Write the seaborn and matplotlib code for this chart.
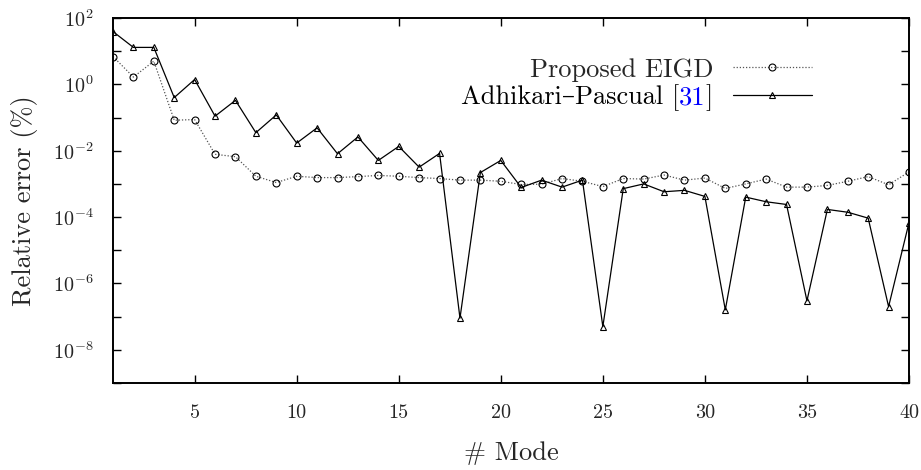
import matplotlib
matplotlib.use("Agg")
import numpy as np
import pandas as pd
import seaborn as sns
import matplotlib.pyplot as plt
from matplotlib.ticker import NullFormatter, LogFormatterSciNotation, FixedLocator

# ---- data ----
modes = list(range(1, 41))
eigd = [6.9, 1.66, 5.0, 0.083, 0.087, 0.0078, 0.0066, 0.0017, 0.0011, 0.0017,
        0.00155, 0.00155, 0.00166, 0.0018, 0.0017, 0.00155, 0.00145, 0.0013, 0.0013, 0.0012,
        9.6e-4, 9.8e-4, 1.45e-3, 1.2e-3, 8.3e-4, 1.45e-3, 1.4e-3, 1.85e-3, 1.3e-3, 1.5e-3,
        7.3e-4, 1.0e-3, 1.4e-3, 8e-4, 8e-4, 9e-4, 1.2e-3, 1.66e-3, 9.4e-4, 2.3e-3]
ap = [39, 13, 13, 0.4, 1.4, 0.11, 0.33, 0.035, 0.12, 0.017,
      0.049, 0.0081, 0.026, 0.0051, 0.0135, 0.0032, 0.0083, 9e-8, 0.0022, 0.0051,
      7.8e-4, 1.3e-3, 8e-4, 1.3e-3, 5e-8, 7.2e-4, 1.0e-3, 5.8e-4, 6.4e-4, 4.2e-4,
      1.6e-7, 4e-4, 2.9e-4, 2.4e-4, 3e-7, 1.7e-4, 1.4e-4, 9.3e-5, 2e-7, 6.8e-5]
label_eigd = "Proposed EIGD"
label_ap_main = "Adhikari–Pascual ["
label_ap_ref = "31"
label_ap_end = "]"
label_ap = label_ap_main + label_ap_ref + label_ap_end
x_ticks = [5, 10, 15, 20, 25, 30, 35, 40]
y_major = [1e-8, 1e-6, 1e-4, 1e-2, 1e0, 1e2]
y_minor = [1e-9, 1e-7, 1e-5, 1e-3, 1e-1, 1e1]

df_e = pd.DataFrame({"mode": modes, "err": eigd})
df_a = pd.DataFrame({"mode": modes, "err": ap})

sns.set_style("ticks")
plt.rcParams["font.family"] = ["cmr10", "DejaVu Serif"]
plt.rcParams["mathtext.fontset"] = "cm"
plt.rcParams["axes.formatter.use_mathtext"] = True
plt.rcParams["axes.unicode_minus"] = False

fig = plt.figure(figsize=(9.21, 4.70), dpi=100)
ax = fig.add_axes([113 / 921, 1 - 383 / 470, 796 / 921, 365 / 470])

sns.lineplot(data=df_e, x="mode", y="err", ax=ax, color="#555555", linestyle=(0, (1, 1.5)),
             linewidth=0.9, marker="o", markersize=5, markerfacecolor="none",
             markeredgecolor="black", markeredgewidth=0.8, label=label_eigd)
sns.lineplot(data=df_a, x="mode", y="err", ax=ax, color="black", linestyle="-",
             linewidth=0.9, marker="^", markersize=5, markerfacecolor="none",
             markeredgecolor="black", markeredgewidth=0.8, label=label_ap)

ax.set_yscale("log")
ax.set_xlim(1, 40)
ax.set_ylim(1e-9, 1e2)
ax.set_xticks(x_ticks)
ax.set_xticklabels([str(v) for v in x_ticks])
ax.yaxis.set_major_locator(FixedLocator(y_major))
ax.yaxis.set_major_formatter(LogFormatterSciNotation(base=10))
ax.yaxis.set_minor_locator(FixedLocator(y_minor))
ax.yaxis.set_minor_formatter(NullFormatter())
ax.xaxis.set_minor_locator(FixedLocator([]))

ax.tick_params(axis="both", which="both", direction="in", length=5.5, width=1,
               top=True, right=True, color="black")
ax.tick_params(axis="y", which="major", labelsize=14.5, pad=14)
ax.tick_params(axis="x", which="major", labelsize=14.5, pad=15)
for s in ax.spines.values():
    s.set_linewidth(1.4)
    s.set_color("black")

ax.set_xlabel("# Mode", fontsize=19)
ax.set_ylabel("Relative error (%)", fontsize=19)
ax.xaxis.set_label_coords(0.5, -0.16)
ax.yaxis.set_label_coords(-0.094, 0.5)

leg = ax.legend(loc="upper right", bbox_to_anchor=(812 / 921, 1 - 58 / 470),
                bbox_transform=fig.transFigure, frameon=False, markerfirst=False,
                fontsize=19, handlelength=3.0, handletextpad=0.75, labelspacing=0.1,
                borderpad=0, borderaxespad=0)

# colour the citation number in the second legend entry
fig.canvas.draw()
r = fig.canvas.get_renderer()
t = leg.get_texts()[1]
x0, y0 = t.get_transform().transform(t.get_position())
prop = t.get_fontproperties()
t.set_alpha(0)
W, H = fig.bbox.width, fig.bbox.height
xpos = x0
for s, c in [(label_ap_main, "black"), (label_ap_ref, "blue"), (label_ap_end, "black")]:
    fig.text(xpos / W, y0 / H, s, ha="left", va="baseline", fontproperties=prop, color=c)
    xpos += r.get_text_width_height_descent(s, prop, ismath=False)[0]

fig.savefig("out.png", dpi=100)
